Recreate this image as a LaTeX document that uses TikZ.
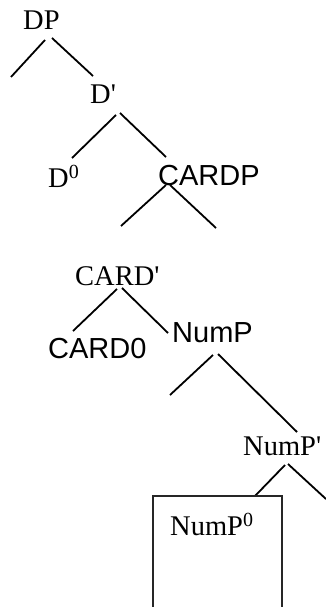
\documentclass[tikz,border=0pt]{standalone}
\usepackage{fontspec}
\setmainfont{Liberation Serif}
\setsansfont{Liberation Sans}
\begin{document}
\begin{tikzpicture}[x=1pt,y=-1pt,
  lbl/.style={inner sep=0pt,anchor=base west,font=\fontsize{28.5}{30}\selectfont},
  slbl/.style={inner sep=0pt,anchor=base west,font=\sffamily\fontsize{29}{31}\selectfont},
  branch/.style={line width=1.8pt},
  boxline/.style={line width=1.4pt,draw=black!85}]
\useasboundingbox (0,0) rectangle (325,607);
% labels
\node[lbl] (DP) at (23,30) {DP};
\node[lbl] (Dbar) at (90,103) {D\textquotesingle};
\node[lbl] (D0) at (48,187) {D\raisebox{9pt}{\fontsize{20}{20}\selectfont 0}};
\node[slbl] (CARDP) at (158,185) {CARDP};
\node[lbl] (CARDbar) at (75,285) {CARD\textquotesingle};
\node[slbl] (CARD0) at (48,358) {CARD0};
\node[slbl] (NumP) at (172,342) {NumP};
\node[lbl] (NumPbar) at (243,455) {NumP\textquotesingle};
\node[lbl] (NumP0) at (170,535) {NumP\raisebox{9pt}{\fontsize{20}{20}\selectfont 0}};
% branch points
\coordinate (DPa) at (45,40);   \coordinate (DPb) at (52,38);
\coordinate (DPl) at (11,77);   \coordinate (DPr) at (93,76);
\coordinate (Da) at (116,115);  \coordinate (Db) at (120,113);
\coordinate (Dl) at (72,158);   \coordinate (Dr) at (166,157);
\coordinate (Ca) at (166,185);  \coordinate (Cb) at (170,185);
\coordinate (Cl) at (121,226);  \coordinate (Cr) at (216,228);
\coordinate (CBa) at (117,289); \coordinate (CBb) at (122,288);
\coordinate (CBl) at (73,331);  \coordinate (CBr) at (168,333);
\coordinate (Na) at (213,355);  \coordinate (Nb) at (218,354);
\coordinate (Nl) at (170,395);  \coordinate (Nr) at (297,432);
\coordinate (NBa) at (285,465); \coordinate (NBb) at (288,464);
\coordinate (NBl) at (255,496); \coordinate (NBr) at (326,499);
\coordinate (BoxBL) at (153,608); \coordinate (BoxTL) at (153,496);
\coordinate (BoxTR) at (282,496); \coordinate (BoxBR) at (282,608);
% branches
\draw[branch] (DPa) -- (DPl);  \draw[branch] (DPb) -- (DPr);
\draw[branch] (Da) -- (Dl);    \draw[branch] (Db) -- (Dr);
\draw[branch] (Ca) -- (Cl);    \draw[branch] (Cb) -- (Cr);
\draw[branch] (CBa) -- (CBl);  \draw[branch] (CBb) -- (CBr);
\draw[branch] (Na) -- (Nl);    \draw[branch] (Nb) -- (Nr);
\draw[branch] (NBa) -- (NBl);  \draw[branch] (NBb) -- (NBr);
\draw[boxline] (BoxBL) -- (BoxTL) -- (BoxTR) -- (BoxBR);
\end{tikzpicture}
\end{document}
